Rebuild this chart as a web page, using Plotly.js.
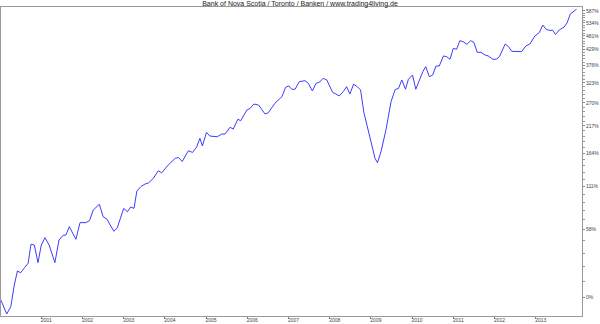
<!DOCTYPE html>
<html>
<head>
<meta charset="utf-8">
<script src="https://cdn.plot.ly/plotly-3.0.1.min.js"></script>
<style>html,body{margin:0;padding:0;background:#fff;}#chart{width:600px;height:324px;}</style>
</head>
<body>
<div id="chart"></div>
<script>
// decimal years
var years = [2000.00,2000.16,2000.26,2000.34,2000.42,2000.50,2000.60,2000.68,2000.75,2000.83,
2000.92,2001.00,2001.09,2001.19,2001.33,2001.43,2001.53,2001.60,2001.68,2001.84,
2001.94,2002.08,2002.17,2002.26,2002.41,2002.50,2002.59,2002.76,2002.84,2003.00,
2003.09,2003.17,2003.25,2003.32,2003.42,2003.52,2003.60,2003.72,2003.84,2003.92,
2004.08,2004.25,2004.33,2004.42,2004.57,2004.67,2004.77,2004.85,2004.91,2005.01,
2005.09,2005.22,2005.27,2005.38,2005.46,2005.58,2005.66,2005.77,2005.84,2005.99,
2006.07,2006.16,2006.27,2006.35,2006.43,2006.51,2006.67,2006.84,2006.93,2007.01,
2007.08,2007.16,2007.26,2007.40,2007.48,2007.58,2007.67,2007.75,2007.84,2007.93,
2008.07,2008.15,2008.23,2008.33,2008.41,2008.49,2008.58,2008.67,2008.75,2008.83,
2008.92,2009.04,2009.10,2009.16,2009.25,2009.37,2009.49,2009.59,2009.67,2009.75,
2009.84,2009.91,2010.01,2010.09,2010.26,2010.33,2010.42,2010.50,2010.58,2010.66,
2010.76,2010.84,2010.92,2011.00,2011.08,2011.16,2011.24,2011.33,2011.42,2011.50,
2011.58,2011.67,2011.77,2011.85,2011.96,2012.04,2012.12,2012.26,2012.34,2012.42,
2012.54,2012.66,2012.76,2012.86,2012.98,2013.09,2013.17,2013.26,2013.35,2013.41,
2013.48,2013.57,2013.69,2013.76,2013.84,2013.93,2013.99];

// performance in percent
var pct = [-0.5,-10.5,-6.0,8.0,19.5,18.1,22.5,25.9,43.0,42.3,
26.4,42.3,49.5,42.3,26.4,47.2,51.9,52.2,61.0,47.9,
65.4,65.4,67.6,80.1,87.1,72.2,69.5,56.1,59.3,82.1,
78.0,83.7,82.1,104.6,110.9,114.5,115.9,122.9,134.6,131.0,
143.7,154.9,156.3,149.5,168.3,165.1,175.1,191.6,176.9,203.6,
196.1,196.1,194.7,200.1,200.1,214.0,210.4,231.4,228.2,252.7,
256.8,267.2,264.8,254.4,243.4,246.4,269.0,285.7,311.0,314.6,
305.5,305.5,326.7,329.6,322.1,300.9,322.1,325.0,336.5,331.6,
297.4,292.9,287.6,299.0,312.6,292.9,319.3,312.6,303.6,246.9,
214.6,176.0,154.9,147.5,167.8,210.4,273.5,304.9,307.7,331.6,
305.5,333.6,346.3,305.5,356.3,371.9,341.2,346.3,374.1,374.1,
407.2,404.8,396.1,434.1,430.5,462.1,458.3,448.6,462.1,456.0,
419.9,419.9,410.6,407.2,396.1,396.1,404.8,449.7,439.9,423.4,
422.0,422.0,442.4,449.7,480.1,493.9,524.6,506.0,502.0,504.0,
486.0,504.0,516.3,533.1,572.5,587.5,594.1];

var yearTicks = [2001,2002,2003,2004,2005,2006,2007,2008,2009,2010,2011,2012,2013];
var yearLabels = ["2001","2002","2003","2004","2005","2006","2007","2008","2009","2010","2011","2012","2013"];
var pctTicks = [0,58,111,164,217,270,323,376,429,481,534,587];

var titleText = "Bank of Nova Scotia / Toronto / Banken / www.trading4living.de";

var yVals = pct.map(function(p){return 1 + p/100;});
var yTickVals = pctTicks.map(function(p){return 1 + p/100;});
var yTickText = pctTicks.map(function(p){return p + "%";});
var minorVals = [];
for (var i = 0; i < pctTicks.length - 1; i++) {
  for (var k = 1; k < 5; k++) {
    minorVals.push(1 + (pctTicks[i] + (pctTicks[i+1]-pctTicks[i])*k/5)/100);
  }
}

var trace = {
  x: years, y: yVals, type: 'scatter', mode: 'lines',
  line: {color: 'rgb(60,60,255)', width: 1},
  hoverinfo: 'skip'
};

var tickFont = {family: 'Arial, Liberation Sans, sans-serif', size: 5, color: '#444'};

var layout = {
  width: 600, height: 324,
  paper_bgcolor: '#fff', plot_bgcolor: '#fff',
  margin: {l: 1, r: 18, t: 7, b: 8, pad: 0},
  showlegend: false,
  title: {
    text: titleText,
    font: {family: 'Arial, Liberation Sans, sans-serif', size: 7, color: '#222'},
    x: 0.5, xref: 'container', xanchor: 'center',
    y: 1 - 4/324, yref: 'container', yanchor: 'middle'
  },
  xaxis: {
    range: [2000.022, 2014.124],
    tickmode: 'array', tickvals: yearTicks, ticktext: yearLabels,
    ticks: 'outside', ticklen: 2, tickcolor: '#888', tickwidth: 1,
    showline: true, linecolor: '#999', linewidth: 1, mirror: true,
    showgrid: false, zeroline: false, automargin: false,
    tickfont: tickFont, ticklabelshift: 5, ticklabelstandoff: -3
  },
  yaxis: {
    type: 'log', side: 'right',
    range: [-0.05401, 0.84818],
    tickmode: 'array', tickvals: yTickVals, ticktext: yTickText,
    ticks: 'outside', ticklen: 2, tickcolor: '#888', tickwidth: 1,
    showline: true, linecolor: '#999', linewidth: 1, mirror: true,
    showgrid: false, zeroline: false, automargin: false,
    tickfont: tickFont, ticklabelstandoff: 0,
    minor: {tickmode: 'array', tickvals: minorVals, ticks: 'outside', ticklen: 1.5, tickcolor: '#999', showgrid: false}
  }
};

Plotly.newPlot('chart', [trace], layout, {displayModeBar: false, staticPlot: true});
</script>
</body>
</html>
